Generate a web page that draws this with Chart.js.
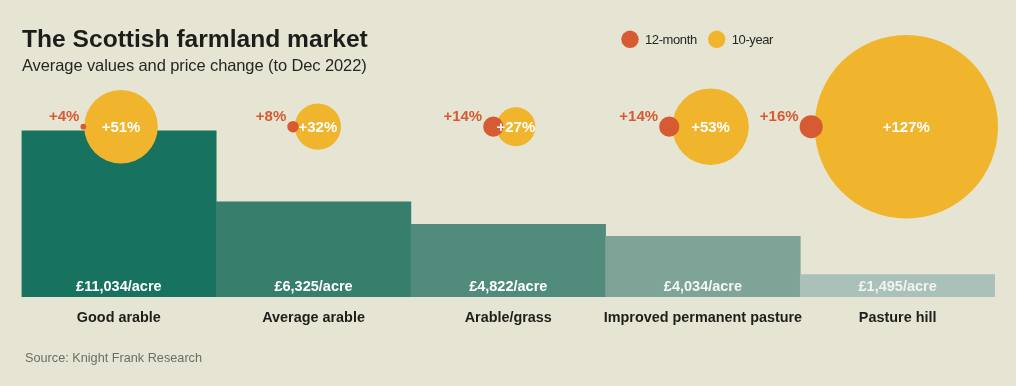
<!DOCTYPE html>
<html>
<head>
<meta charset="utf-8">
<script src="https://cdn.jsdelivr.net/npm/chart.js@4.4.1/dist/chart.umd.min.js"></script>
<style>
  html, body { margin: 0; padding: 0; background: #e6e5d3; }
  #wrap { width: 1016px; height: 386px; position: relative; }
  canvas { display: block; }
</style>
</head>
<body>
<div id="wrap"><canvas id="c" width="1016" height="386"></canvas></div>
<script>
// ---- DATA ----
const categories = ['Good arable', 'Average arable', 'Arable/grass', 'Improved permanent pasture', 'Pasture hill'];
const valuesPerAcre = [11034, 6325, 4822, 4034, 1495];
const change12Month = [4, 8, 14, 14, 16];
const change10Year = [51, 32, 27, 53, 127];
const seriesNames = ['12-month', '10-year'];
const titleText = 'The Scottish farmland market';
const subtitleText = 'Average values and price change (to Dec 2022)';
const sourceText = 'Source: Knight Frank Research';

// ---- STYLE / LAYOUT ----
const FONT = "'Liberation Sans', Arial, Helvetica, sans-serif";
const W = 1016;
const PAD_L = 21.5, PAD_R = 21, PAD_T = 35;
const CAT_PX = (W - PAD_L - PAD_R) / categories.length;
const PX_PER_PCT = 0.722;          // bubble radius in px per percentage point
const BUBBLE_ROW = 0.65;           // vertical row of bubbles on the 0..1 bubble axis
const barColors = ['#17735f', '#377e6d', '#508b7b', '#7ea497', '#aac1ba'];
const barLabelColors = ['#ffffff', '#ffffff', '#ffffff', '#f4f6f1', '#f1f4ef'];
const ORANGE = '#d65b33';
const YELLOW = '#f1b52d';

function fmtMoney(v) {
  return '£' + String(v).replace(/\B(?=(\d{3})+(?!\d))/g, ',') + '/acre';
}
const valueLabels = valuesPerAcre.map(fmtMoney);

const rOrange = change12Month.map(v => v * PX_PER_PCT);
const rYellow = change10Year.map(v => v * PX_PER_PCT);
const xYellow = categories.map((_, i) => i + 0.75 * rOrange[i] / CAT_PX);
const xOrange = categories.map((_, i) => xYellow[i] - (rYellow[i] + 0.3 * rOrange[i]) / CAT_PX);

const labelsPlugin = {
  id: 'labels',
  beforeDraw(chart) {
    const ctx = chart.ctx;
    ctx.save();
    ctx.fillStyle = '#e6e5d3';
    ctx.fillRect(0, 0, chart.width, chart.height);
    ctx.restore();
  },
  afterDatasetsDraw(chart) {
    const ctx = chart.ctx;
    ctx.save();
    // bar value labels
    const barMeta = chart.getDatasetMeta(2);
    ctx.textAlign = 'center';
    ctx.textBaseline = 'alphabetic';
    ctx.font = 'bold 14.5px ' + FONT;
    barMeta.data.forEach((el, i) => {
      ctx.fillStyle = barLabelColors[i];
      ctx.fillText(valueLabels[i], el.x, 291);
    });
    // 10-year labels (white, centred)
    const yMeta = chart.getDatasetMeta(1);
    ctx.font = 'bold 15px ' + FONT;
    ctx.fillStyle = '#ffffff';
    yMeta.data.forEach((el, i) => {
      ctx.fillText('+' + change10Year[i] + '%', el.x, el.y + 5.5);
    });
    // 12-month labels (orange, upper-left)
    const oMeta = chart.getDatasetMeta(0);
    ctx.textAlign = 'right';
    ctx.fillStyle = ORANGE;
    oMeta.data.forEach((el, i) => {
      ctx.fillText('+' + change12Month[i] + '%', el.x - rOrange[i] - 1, el.y - 5.5);
    });
    ctx.restore();
  },
  afterDraw(chart) {
    const ctx = chart.ctx;
    ctx.save();
    ctx.textBaseline = 'alphabetic';
    ctx.textAlign = 'left';
    ctx.fillStyle = '#1d1d1b';
    ctx.font = 'bold 24.6px ' + FONT;
    ctx.fillText(titleText, 22, 47);
    ctx.fillStyle = '#262624';
    ctx.font = '16.5px ' + FONT;
    try { ctx.letterSpacing = '-0.1px'; } catch (e) {}
    ctx.fillText(subtitleText, 22, 71);
    try { ctx.letterSpacing = '0px'; } catch (e) {}
    ctx.fillStyle = '#6d6d68';
    ctx.font = '12.7px ' + FONT;
    ctx.fillText(sourceText, 25, 362);
    // legend from the bubble datasets
    ctx.font = '13px ' + FONT;
    try { ctx.letterSpacing = '-0.4px'; } catch (e) {}
    let x0 = 621.3;
    [0, 1].forEach(di => {
      const ds = chart.data.datasets[di];
      ctx.fillStyle = ds.backgroundColor;
      ctx.beginPath();
      ctx.arc(x0 + 8.7, 39.3, 8.7, 0, Math.PI * 2);
      ctx.fill();
      ctx.fillStyle = '#262624';
      ctx.fillText(ds.label, x0 + 23.7, 44.3);
      x0 = x0 + 23.7 + ctx.measureText(ds.label).width + 11.3;
    });
    ctx.restore();
  }
};

new Chart(document.getElementById('c'), {
  type: 'bar',
  data: {
    labels: categories,
    datasets: [
      {
        type: 'bubble', label: seriesNames[0],
        data: categories.map((_, i) => ({ x: xOrange[i], y: BUBBLE_ROW, r: rOrange[i] })),
        backgroundColor: ORANGE, borderWidth: 0, hoverRadius: 0,
        xAxisID: 'xB', yAxisID: 'yB', order: 0, clip: false
      },
      {
        type: 'bubble', label: seriesNames[1],
        data: categories.map((_, i) => ({ x: xYellow[i], y: BUBBLE_ROW, r: rYellow[i] })),
        backgroundColor: YELLOW, borderWidth: 0, hoverRadius: 0,
        xAxisID: 'xB', yAxisID: 'yB', order: 1, clip: false
      },
      {
        type: 'bar', label: 'Average value (£/acre)',
        data: valuesPerAcre,
        backgroundColor: barColors, borderWidth: 0,
        barPercentage: 1, categoryPercentage: 1, grouped: false,
        xAxisID: 'x', yAxisID: 'y', order: 2
      }
    ]
  },
  options: {
    responsive: false,
    animation: false,
    events: [],
    layout: { autoPadding: false, padding: { left: PAD_L, right: PAD_R, top: PAD_T, bottom: 0 } },
    plugins: { legend: { display: false }, tooltip: { enabled: false }, title: { display: false } },
    scales: {
      x: {
        type: 'category', offset: true,
        grid: { display: false, drawTicks: false },
        border: { display: false },
        ticks: { padding: 12, color: '#1e1e1c', maxRotation: 0, autoSkip: false,
                 font: { family: FONT, size: 14.4, weight: 'bold' } },
        afterFit: s => { s.height = 89; }
      },
      y: { type: 'linear', display: false, min: 0, max: 17400 },
      xB: { type: 'linear', display: false, offset: false, min: -0.5, max: 4.5 },
      yB: { type: 'linear', display: false, offset: false, min: 0, max: 1 }
    }
  },
  plugins: [labelsPlugin]
});
</script>
</body>
</html>
